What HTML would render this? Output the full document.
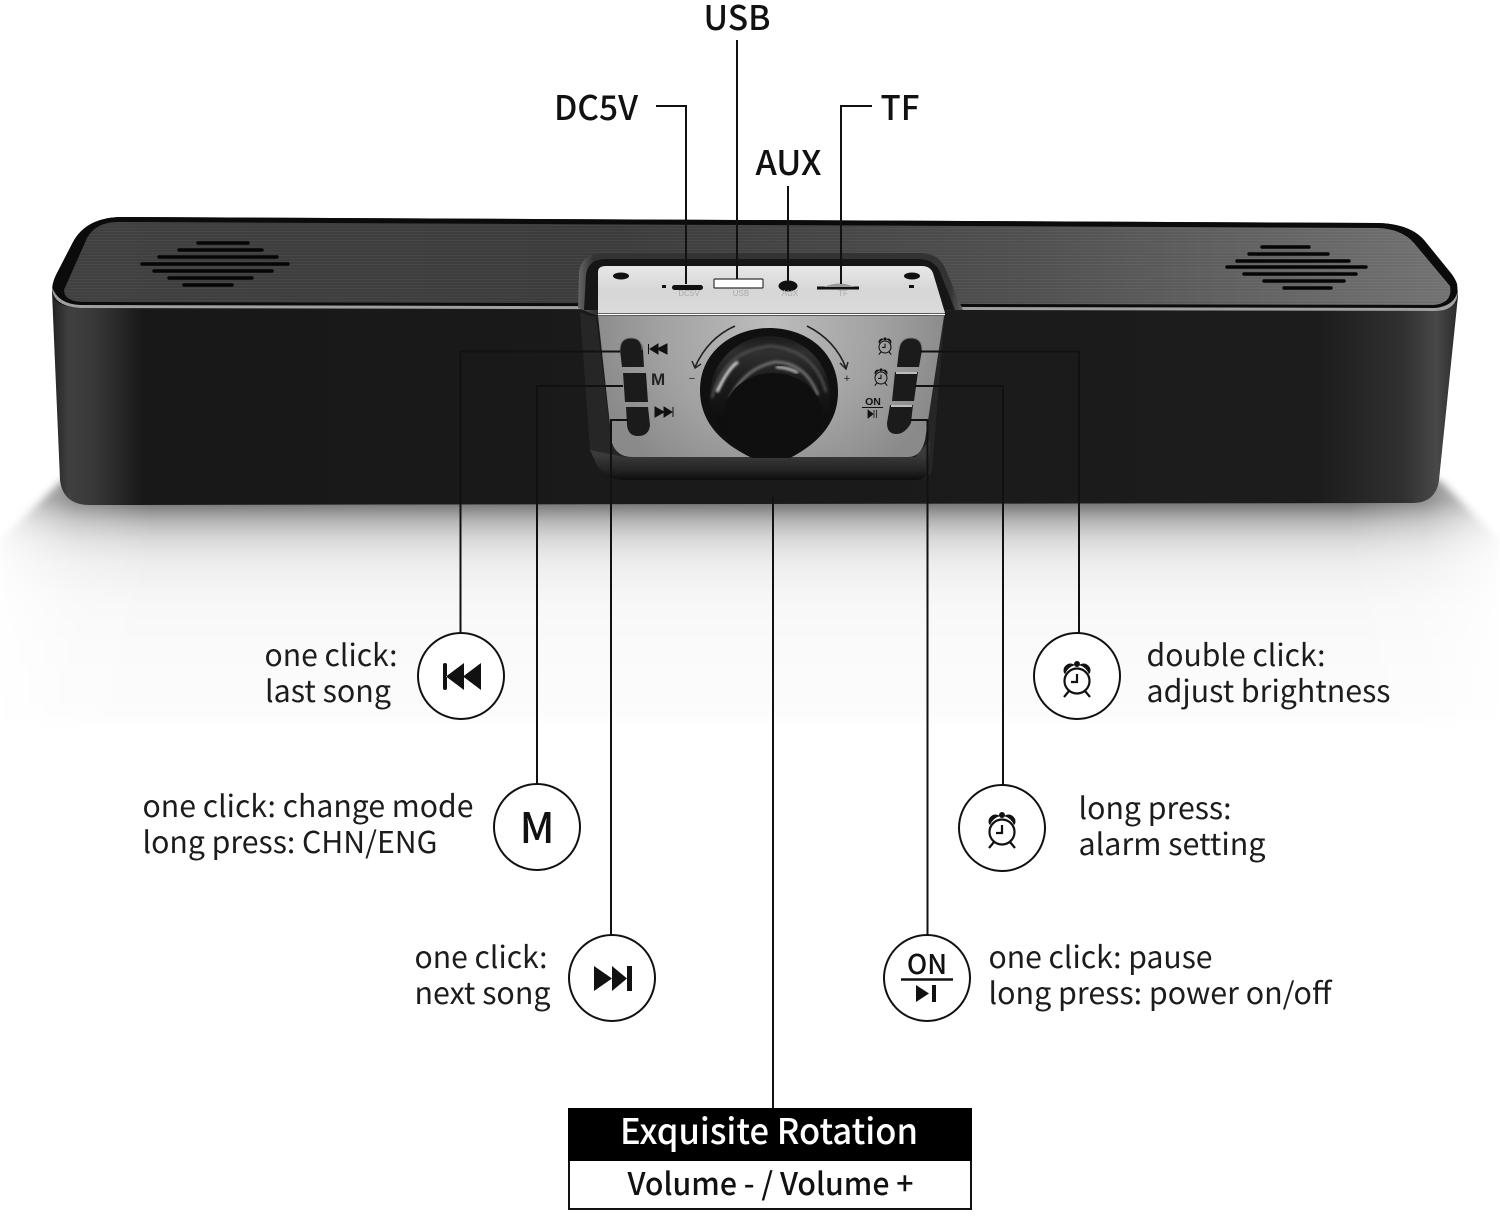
<!DOCTYPE html>
<html><head><meta charset="utf-8"><style>
html,body{margin:0;padding:0;background:#fff}
svg{display:block}
text{font-family:"Liberation Sans","Noto Sans CJK SC",sans-serif}
.n{font-family:"Noto Sans CJK SC","Liberation Sans",sans-serif;fill:#1c1c1c;font-size:30px}
.l{font-family:"Noto Sans CJK SC","Liberation Sans",sans-serif;fill:#111;font-size:34px;font-weight:500}
</style></head><body>
<svg width="1500" height="1217" viewBox="0 0 1500 1217" xmlns="http://www.w3.org/2000/svg">
<defs>
<linearGradient id="sh" x1="0" y1="500" x2="0" y2="730" gradientUnits="userSpaceOnUse">
<stop offset="0" stop-color="#666"/><stop offset=".04" stop-color="#8c8c8c"/><stop offset=".1" stop-color="#bbb"/><stop offset=".18" stop-color="#dcdcdc"/><stop offset=".28" stop-color="#eeeeee"/><stop offset=".45" stop-color="#f8f8f8"/><stop offset=".93" stop-color="#fcfcfc"/><stop offset="1" stop-color="#fff"/>
</linearGradient>
<linearGradient id="shm" x1="0" x2="1500" y1="0" y2="0" gradientUnits="userSpaceOnUse">
<stop offset="0" stop-color="#fff" stop-opacity=".15"/><stop offset=".05" stop-color="#fff" stop-opacity=".75"/><stop offset=".1" stop-color="#fff"/><stop offset=".9" stop-color="#fff"/><stop offset=".95" stop-color="#fff" stop-opacity=".75"/><stop offset="1" stop-color="#fff" stop-opacity=".15"/>
</linearGradient>
<mask id="shmask" maskUnits="userSpaceOnUse" x="0" y="470" width="1500" height="270"><rect x="0" y="470" width="1500" height="270" fill="url(#shm)"/></mask>
<linearGradient id="body" x1="52" x2="1458" y1="0" y2="0" gradientUnits="userSpaceOnUse">
<stop offset="0" stop-color="#222"/><stop offset=".012" stop-color="#404040"/><stop offset=".03" stop-color="#383838"/><stop offset=".065" stop-color="#181818"/><stop offset=".9" stop-color="#1c1c1c"/><stop offset=".96" stop-color="#303030"/><stop offset=".985" stop-color="#484848"/><stop offset="1" stop-color="#2a2a2a"/>
</linearGradient>
<linearGradient id="top" x1="60" x2="1450" y1="0" y2="0" gradientUnits="userSpaceOnUse">
<stop offset="0" stop-color="#404040"/><stop offset=".4" stop-color="#3c3c3c"/><stop offset=".7" stop-color="#505050"/><stop offset="1" stop-color="#727272"/>
</linearGradient>
<linearGradient id="sil1" x1="0" y1="265" x2="0" y2="316" gradientUnits="userSpaceOnUse">
<stop offset="0" stop-color="#e8e8e8"/><stop offset=".5" stop-color="#d6d6d6"/><stop offset="1" stop-color="#dcdcdc"/>
</linearGradient>
<radialGradient id="sil2" cx="770" cy="325" r="180" gradientUnits="userSpaceOnUse">
<stop offset="0" stop-color="#bcbcbc"/><stop offset=".6" stop-color="#a2a2a2"/><stop offset="1" stop-color="#8a8a8a"/>
</radialGradient>
<linearGradient id="rec" x1="578" x2="970" y1="0" y2="0" gradientUnits="userSpaceOnUse">
<stop offset="0" stop-color="#666"/><stop offset=".04" stop-color="#333"/><stop offset=".95" stop-color="#333"/><stop offset="1" stop-color="#777"/>
</linearGradient>
<linearGradient id="band" x1="0" y1="455" x2="0" y2="480" gradientUnits="userSpaceOnUse">
<stop offset="0" stop-color="#3a3a3a"/><stop offset=".6" stop-color="#242424"/><stop offset="1" stop-color="#0d0d0d"/>
</linearGradient>
<linearGradient id="kn" x1="0" y1="330" x2="0" y2="420" gradientUnits="userSpaceOnUse">
<stop offset="0" stop-color="#111"/><stop offset=".25" stop-color="#303030"/><stop offset=".55" stop-color="#1c1c1c"/><stop offset="1" stop-color="#0e0e0e"/>
</linearGradient>
<pattern id="br" width="40" height="3" patternUnits="userSpaceOnUse"><rect width="40" height="1" fill="#fff" opacity=".04"/></pattern>
<filter id="b1" x="-5%" y="-20%" width="110%" height="140%"><feGaussianBlur stdDeviation="4"/></filter>
<filter id="b2"><feGaussianBlur stdDeviation="1.2"/></filter>
<g id="al">
<circle cx="0" cy="2" r="12.5" fill="none" stroke="#111" stroke-width="2.2"/>
<path d="M0 -5V3H-6" fill="none" stroke="#111" stroke-width="2.2"/>
<path d="M-13 -6a7 7 0 0 1 9 -9l2 1a16 16 0 0 0 -10 9zM13 -6a7 7 0 0 0 -9 -9l-2 1a16 16 0 0 1 10 9z" fill="#111"/>
<circle cx="0" cy="-15" r="3" fill="#111"/>
<path d="M-8 12l-5 6M8 12l5 6" stroke="#111" stroke-width="2.2"/>
</g>
</defs>

<!-- floor shadow -->
<g mask="url(#shmask)"><path d="M62 480H1440L1500 540V735H0V540Z" fill="url(#sh)" filter="url(#b1)"/></g>

<!-- speaker -->
<path id="outer" d="M52 292L60 480Q63 505 90 505L1412 503Q1436 503 1439 480L1458 296L1457 284Q1455 278 1450 272L1424 240Q1410 224 1378 223L120 217Q86 218 73 242L56 275Q52 283 52 292Z" fill="url(#body)"/>
<path d="M52 292Q52 283 56 275L73 242Q86 218 120 217L1378 223Q1410 224 1424 240L1450 272Q1455 278 1457 284L1458 296Q1456 311 1435 311L80 308Q54 307 52 292Z" fill="#0b0b0b"/>
<path d="M52 287Q52 306 80 308L1435 311Q1458 311 1458 290Q1455 306 1435 308L80 305Q58 304 52 287Z" fill="#a0a0a0"/>
<path id="surf" d="M64 290L87 238Q96 222 118 222L1378 228Q1402 229 1414 243L1450 286Q1453 303 1434 305L85 302Q64 302 64 290Z" fill="url(#top)"/>
<path d="M64 290L87 238Q96 222 118 222L1378 228Q1402 229 1414 243L1450 286Q1453 303 1434 305L85 302Q64 302 64 290Z" fill="url(#br)"/>

<!-- grilles -->
<g stroke="#050505" stroke-width="3.4" stroke-linecap="round">
<path d="M198 243H248M179 250H262M159 257H277M142 264H288M154 271H272M169 278H252M184 285H232"/>
<path d="M1262 247H1309M1249 254H1328M1237 261H1349M1227 267H1366M1244 274H1356M1264 281H1344M1284 288H1331"/>
</g>

<!-- recess -->
<path d="M578 308L579 272Q581 254 603 253H920Q938 253 945 268L963 310L598 316Z" fill="url(#rec)"/>
<path d="M584 310L586 275Q588 259 606 259H918Q934 259 940 272L955 310Z" fill="#161616"/>
<path d="M580 312L590 316H596L612 445L630 458H925L930 310H945L932 470Q930 480 915 480H625Q605 480 597 465L590 450Z" fill="#262626"/>
<path d="M590 450L597 465Q605 480 625 480H915Q926 480 928 472L930 440L915 457H625Z" fill="url(#band)"/>

<!-- silver faces -->
<path d="M598 272Q598 266 606 266H922Q930 266 933 273L945 313H598Z" fill="url(#sil1)"/>
<path d="M598 316H944L925 440Q921 457 908 457H632Q617 457 612 443Z" fill="url(#sil2)"/>
<path d="M598 314.500H945" stroke="#fff" stroke-width="1.500"/>

<!-- ports -->
<ellipse cx="621" cy="276" rx="8" ry="3.500" fill="#111"/>
<ellipse cx="912" cy="276" rx="8" ry="3.500" fill="#111"/>
<rect x="662" y="285" width="4" height="3" fill="#111"/>
<rect x="909" y="285" width="5" height="3" fill="#111"/>
<rect x="672" y="285" width="31" height="5" rx="2.500" fill="#111"/>
<rect x="714" y="279" width="49" height="9" rx="1" fill="#fff" stroke="#333" stroke-width="1.200"/>
<ellipse cx="788" cy="286" rx="9.500" ry="5.500" fill="#111"/>
<path d="M817 288H859" stroke="#111" stroke-width="3"/>
<path d="M824 287Q840 280 854 287Z" fill="#999"/>
<g fill="#aaa" font-size="8" text-anchor="middle"><text x="689" y="296">DC5V</text><text x="741" y="296">USB</text><text x="790" y="296">AUX</text><text x="843" y="296">TF</text></g>

<!-- buttons -->
<g fill="#1b1b1b">
<path d="M620 350Q620 338 631 338Q642 338 643 350L644 367H622Z"/>
<path d="M623 373H646L648 402H625Z"/>
<path d="M626 407H648L650 425Q649 436 638 436Q628 436 627 425Z"/>
<path d="M899 350Q900 338 911 338Q922 338 922 350L919 367H897Z"/>
<path d="M895 372H918L914 401H892Z"/>
<path d="M890 405H913L911 423Q905 434 896 434Q887 434 887 423Z"/>
</g>
<path d="M896 373H917M891 406H912" stroke="#bdbdbd" stroke-width="2"/>
<path d="M620 350Q620 338 631 338Q642 338 642 350M899 350Q900 338 911 338Q922 338 922 350" fill="none" stroke="#777" stroke-width="1"/>
<path d="M648.500 344V354M667 344L657 349L667 354ZM658 344L650 349L658 354Z" fill="#111" stroke="#111"/>
<text x="651" y="385" font-size="17" fill="#222" font-weight="700">M</text>
<path d="M655 407L664 412L655 417ZM664 407L672 412L664 417ZM673 407V417" fill="#111" stroke="#111"/>
<use href="#al" transform="translate(885 346) scale(.48)"/>
<use href="#al" transform="translate(881 377) scale(.48)"/>
<text x="873" y="405" font-size="10.500" text-anchor="middle" fill="#111" font-weight="700">ON</text>
<path d="M862 407.500H883" stroke="#111" stroke-width="1"/>
<path d="M868 410L873 414L868 418ZM874 410V418M876.500 410V418" fill="#111" stroke="#111" stroke-width=".8"/>

<!-- knob -->
<path d="M695 367Q708 338 735 326" fill="none" stroke="#222" stroke-width="1.600"/>
<path d="M692 361L695 368L701 364" fill="none" stroke="#222" stroke-width="1.500"/>
<path d="M807 326Q835 340 846 368" fill="none" stroke="#222" stroke-width="1.600"/>
<path d="M840 363L846 369L848 362" fill="none" stroke="#222" stroke-width="1.500"/>
<text x="692" y="382" font-size="11" text-anchor="middle" fill="#222">−</text>
<text x="847" y="382" font-size="11" text-anchor="middle" fill="#222">+</text>
<path d="M700 390C700 350 735 328 769 328C805 328 838 350 838 392C838 425 815 445 790 458H752C725 445 700 425 700 390Z" fill="#101010"/>
<ellipse cx="770" cy="396" rx="60" ry="60" fill="url(#kn)"/>
<path d="M712 398Q722 352 770 346Q815 350 826 392" fill="none" stroke="#505050" stroke-width="2.500" filter="url(#b2)"/>
<path d="M717 392Q728 368 738 362" fill="none" stroke="#ddd" stroke-width="3" filter="url(#b2)"/>
<path d="M730 398Q745 368 775 362Q805 362 818 395" fill="none" stroke="#7c7c7c" stroke-width="2.500" filter="url(#b2)"/>
<path d="M776 367Q790 368 798 373" fill="none" stroke="#ccc" stroke-width="2.500" filter="url(#b2)"/>
<ellipse cx="773" cy="415" rx="49" ry="42" fill="#0f0f0f"/>
<path d="M724 415C724 440 745 452 752 457H790C800 452 822 440 822 415Z" fill="#0f0f0f"/>

<!-- connectors -->
<g fill="none" stroke="#111" stroke-width="2">
<path d="M737 40V279"/>
<path d="M656 106H686V284"/>
<path d="M788 186V282"/>
<path d="M872 106H841V284"/>
<path d="M620 351.500H460.500V633"/>
<path d="M623 386H537V785"/>
<path d="M628 420H611V935"/>
<path d="M920 351.500H1079V633"/>
<path d="M915 386H1003V785"/>
<path d="M910 420H927.500V935"/>
<path d="M773 497V1108"/>
</g>

<!-- circles -->
<g fill="#fff" stroke="#111" stroke-width="2">
<circle cx="461" cy="676" r="43"/><circle cx="537" cy="827" r="43"/><circle cx="612" cy="978" r="43"/>
<circle cx="1077" cy="676" r="43"/><circle cx="1002" cy="828" r="43"/><circle cx="927" cy="978" r="43"/>
</g>
<path d="M443 665Q443 663 445 663Q447 663 447 665V688Q447 690 445 690Q443 690 443 688ZM464 663L446 676.500L464 690ZM481 663L463 676.500L481 690Z" fill="#111"/>
<path d="M594 966L612 978.500L594 991ZM612 966L627 978.500L612 991ZM627 966H632V991H627Z" fill="#111"/>
<use href="#al" transform="translate(1077 679)"/>
<use href="#al" transform="translate(1002 830)"/>
<text x="537" y="843" class="n" style="font-size:42px;fill:#111;font-weight:500" text-anchor="middle">M</text>
<text x="927" y="974" class="n" style="font-size:27px;fill:#111;font-weight:500" text-anchor="middle">ON</text>
<path d="M901 979.500H953" stroke="#111" stroke-width="2.500"/>
<path d="M916 985L929 993.500L916 1002ZM932 985H936V1002H932Z" fill="#111"/>

<!-- top labels -->
<text class="l" x="703.500" y="30" textLength="67" lengthAdjust="spacingAndGlyphs">USB</text>
<text class="l" x="554" y="120" textLength="84" lengthAdjust="spacingAndGlyphs">DC5V</text>
<text class="l" x="755.500" y="175" textLength="66" lengthAdjust="spacingAndGlyphs">AUX</text>
<text class="l" x="880.500" y="120" textLength="39" lengthAdjust="spacingAndGlyphs">TF</text>

<!-- descriptions -->
<text class="n" x="264.500" y="666" textLength="133" lengthAdjust="spacingAndGlyphs">one click:</text>
<text class="n" x="265" y="702" textLength="126" lengthAdjust="spacingAndGlyphs">last song</text>
<text class="n" x="142.500" y="817" textLength="331" lengthAdjust="spacingAndGlyphs">one click: change mode</text>
<text class="n" x="142.500" y="853" textLength="295" lengthAdjust="spacingAndGlyphs">long press: CHN/ENG</text>
<text class="n" x="414.500" y="968" textLength="133" lengthAdjust="spacingAndGlyphs">one click:</text>
<text class="n" x="414.500" y="1004" textLength="136" lengthAdjust="spacingAndGlyphs">next song</text>
<text class="n" x="1146.500" y="666" textLength="179" lengthAdjust="spacingAndGlyphs">double click:</text>
<text class="n" x="1146.500" y="702" textLength="244" lengthAdjust="spacingAndGlyphs">adjust brightness</text>
<text class="n" x="1078.500" y="819" textLength="153" lengthAdjust="spacingAndGlyphs">long press:</text>
<text class="n" x="1078.500" y="855" textLength="187" lengthAdjust="spacingAndGlyphs">alarm setting</text>
<text class="n" x="988.500" y="968" textLength="224" lengthAdjust="spacingAndGlyphs">one click: pause</text>
<text class="n" x="988.500" y="1004" textLength="343" lengthAdjust="spacingAndGlyphs">long press: power on/off</text>

<!-- bottom box -->
<rect x="569" y="1109" width="402" height="100" fill="#fff" stroke="#111" stroke-width="2"/>
<rect x="568" y="1108" width="404" height="53" fill="#000"/>
<text x="620" y="1144" textLength="298" lengthAdjust="spacingAndGlyphs" style="font-family:'Noto Sans CJK SC','Liberation Sans',sans-serif;font-size:35px;font-weight:500" fill="#fff">Exquisite Rotation</text>
<text x="627.500" y="1195" textLength="286" lengthAdjust="spacingAndGlyphs" style="font-family:'Noto Sans CJK SC','Liberation Sans',sans-serif;font-size:31px;font-weight:500" fill="#111">Volume - / Volume +</text>
</svg>
</body></html>
